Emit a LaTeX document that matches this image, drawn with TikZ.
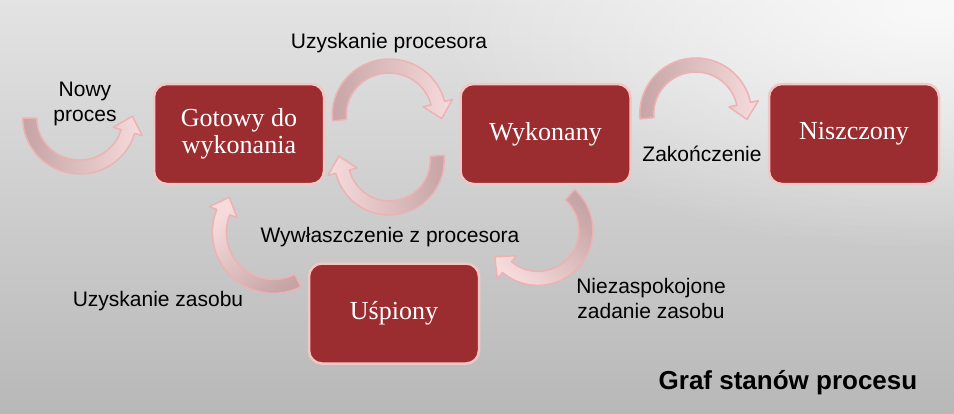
\documentclass[tikz,border=0pt]{standalone}
\usepackage{fontspec}
\setmainfont{Liberation Serif}
\setsansfont{Liberation Sans}
\usetikzlibrary{calc,positioning,fadings}
\definecolor{procred}{HTML}{9B2D30}
\definecolor{procedge}{HTML}{F3C6C6}
\definecolor{arrline}{HTML}{EDB2B3}
\definecolor{arrtail}{HTML}{C6A3A4}
\definecolor{arrhead}{HTML}{F7DBDC}
\definecolor{bgtop}{HTML}{E3E3E3}
\definecolor{bgbot}{HTML}{B8B8B8}
\tikzfading[name=glow, inner color=transparent!0, outer color=transparent!100]
\tikzset{
  statebox/.style={draw=procedge, line width=2.5pt, fill=procred, rounded corners=13pt,
    minimum width=170pt, minimum height=100pt, inner sep=0pt, text=white, align=center,
    font=\fontsize{26}{27}\selectfont},
  lbl/.style={align=center, font=\sffamily\fontsize{21}{25}\selectfont},
  arrowbody/.style={draw=arrline, line width=1.5pt, line join=round,
    bottom color=arrtail, top color=arrhead},
}
% curved block arrow: centre, x radius, y radius, start angle, end angle, shading angle
\newcommand\procarrow[6]{%
  \pgfmathsetmacro\arrs{sign((#5)-(#4))}
  \pgfmathsetmacro\arrxo{#2+7}\pgfmathsetmacro\arryo{#3+7}
  \pgfmathsetmacro\arrxi{#2-7}\pgfmathsetmacro\arryi{#3-7}
  \pgfmathsetmacro\arrxh{#2+15}\pgfmathsetmacro\arryh{#3+15}
  \pgfmathsetmacro\arrxk{#2-15}\pgfmathsetmacro\arryk{#3-15}
  \pgfmathsetmacro\arrtx{-(\arrs)*#2*sin(#5)}
  \pgfmathsetmacro\arrty{(\arrs)*#3*cos(#5)}
  \pgfmathsetmacro\arrlen{veclen(\arrtx,\arrty)}
  \pgfmathsetmacro\arrtx{16*\arrtx/\arrlen}
  \pgfmathsetmacro\arrty{16*\arrty/\arrlen}
  \path[arrowbody, shading angle=#6]
    ($(#1)+(#4:\arrxo pt and \arryo pt)$)
      arc[start angle=#4, end angle=#5, x radius=\arrxo pt, y radius=\arryo pt]
    -- ($(#1)+(#5:\arrxh pt and \arryh pt)$)
    -- ($(#1)+(#5:#2pt and #3pt)+(\arrtx pt,\arrty pt)$)
    -- ($(#1)+(#5:\arrxk pt and \arryk pt)$)
    -- ($(#1)+(#5:\arrxi pt and \arryi pt)$)
      arc[start angle=#5, end angle=#4, x radius=\arrxi pt, y radius=\arryi pt]
    -- cycle;
}
\begin{document}
\begin{tikzpicture}[x=1pt, y=1pt]
  \useasboundingbox (0,0) rectangle (954,-413);
  % background
  \begin{scope}
    \clip (0,0) rectangle (954,-413);
    \shade[top color=bgtop, bottom color=bgbot] (0,0) rectangle (954,-413);
    \fill[white, path fading=glow, fill opacity=0.8] (930,-10) ellipse (500pt and 240pt);
  \end{scope}

  % states
  \node[statebox] (gotowy) at (239,-134) {Gotowy do\\wykonania};
  \node[statebox, right=134pt of gotowy] (wykonany) {Wykonany};
  \node[statebox, right=136pt of wykonany] (niszczony) {Niszczony};
  \node[statebox] (uspiony) at (394,-313.5) {Uśpiony};

  % arrow centres
  \coordinate (cNowy) at ($(gotowy.west)+(-73,16)$);
  \coordinate (cUp) at ($(gotowy.east)!0.5!(wykonany.west)+(-3,19)$);
  \coordinate (cDown) at ($(gotowy.east)!0.5!(wykonany.west)+(-3,-26)$);
  \coordinate (cKoniec) at ($(wykonany.east)!0.5!(niszczony.west)+(-4,20)$);
  \coordinate (cZasob) at ($(gotowy.south)!0.5!(uspiony.west)+(0,17)$);
  \coordinate (cBrak) at ($(wykonany.south)!0.5!(uspiony.east)+(25,19)$);

  % transitions
  \procarrow{cNowy}{50}{49}{180}{344}{-90}
  \procarrow{cUp}{50}{49}{186}{14}{-90}
  \procarrow{cDown}{48}{48}{5}{-166}{90}
  \procarrow{cKoniec}{49}{49}{185}{12}{-90}
  \procarrow{cZasob}{54}{54}{297}{158}{40}
  \procarrow{cBrak}{48}{48}{48}{-130}{135}

  % labels
  \node[lbl] (nowy) at (85,-104) {Nowy\\proces};
  \node[lbl] (uzproc) at (389,-43) {Uzyskanie procesora};
  \node[lbl] (zakon) at (702,-154) {Zakończenie};
  \node[lbl] (wywl) at (390,-237) {Wywłaszczenie z procesora};
  \node[lbl] (uzzas) at (158,-301) {Uzyskanie zasobu};
  \node[lbl] (niezasp) at (651,-298) {Niezaspokojone\\zadanie zasobu};
  \node[font=\sffamily\bfseries\fontsize{26}{30}\selectfont] (tytul) at (788,-383) {Graf stanów procesu};
\end{tikzpicture}
\end{document}
